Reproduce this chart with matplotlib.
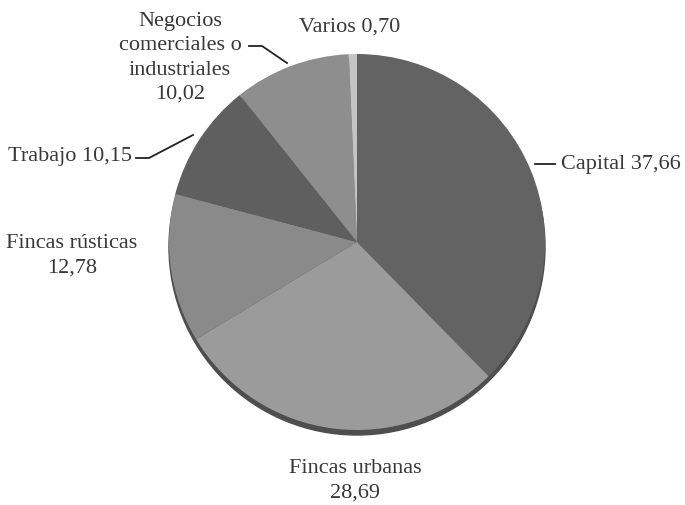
import numpy as np
import matplotlib.pyplot as plt
from matplotlib.patches import Circle

# data (percent)
labels = ['Capital', 'Fincas urbanas', 'Fincas rústicas', 'Trabajo',
          'Negocios\ncomerciales o\nindustriales', 'Varios']
values = [37.66, 28.69, 12.78, 10.15, 10.02, 0.70]
colors = ['#636363', '#9b9b9b', '#8a8a8a', '#5f5f5f', '#8e8e8e', '#c4c4c4']

plt.rcParams['font.family'] = 'Liberation Serif'

fig = plt.figure(figsize=(6.85, 5.06), dpi=100)
ax = fig.add_axes([0, 0, 1, 1])

cx, cy, r = 357, 263, 188

# shadow rim under pie
ax.add_patch(Circle((cx, cy - 5), r, color='#4e4e4e', zorder=0))

wedges, _ = ax.pie(values, colors=colors, startangle=90, counterclock=False,
                   center=(cx, cy), radius=r, frame=True,
                   wedgeprops=dict(linewidth=0))
ax.set_xlim(0, 685)
ax.set_ylim(0, 506)
ax.set_aspect('equal')
ax.axis('off')

def fmt(v):
    return f'{v:.2f}'.replace('.', ',')

tc = '#383838'
fs = 16
lw = 1.3
ls = 1.38

# Capital
ax.annotate(f'{labels[0]} {fmt(values[0])}', xy=(532, 341), xytext=(561, 341),
            ha='left', va='center', fontsize=fs, color=tc,
            arrowprops=dict(arrowstyle='-', color='#222222', lw=lw))
# Fincas urbanas
ax.text(355, 506 - 481, f'{labels[1]}\n{fmt(values[1])}', ha='center', va='center',
        fontsize=fs, color=tc, linespacing=ls)
# Fincas rústicas
ax.text(72, 506 - 256, f'{labels[2]}\n{fmt(values[2])}', ha='center', va='center',
        fontsize=fs, color=tc, linespacing=ls)
# Trabajo
ax.text(8, 506 - 157, f'{labels[3]} {fmt(values[3])}', ha='left', va='center',
        fontsize=fs, color=tc)
ax.plot([136, 149, 193], [506 - 159, 506 - 159, 506 - 136], color='#222222', lw=lw)
# Negocios
ax.text(180, 506 - 58, f'{labels[4]}\n{fmt(values[4])}', ha='center', va='center',
        fontsize=fs, color=tc, linespacing=ls)
ax.plot([249, 262, 287], [506 - 47, 506 - 47, 506 - 64], color='#222222', lw=lw)
# Varios
ax.text(350, 506 - 27, f'{labels[5]} {fmt(values[5])}', ha='center', va='center',
        fontsize=fs, color=tc)

fig.savefig('out.png', dpi=100)
